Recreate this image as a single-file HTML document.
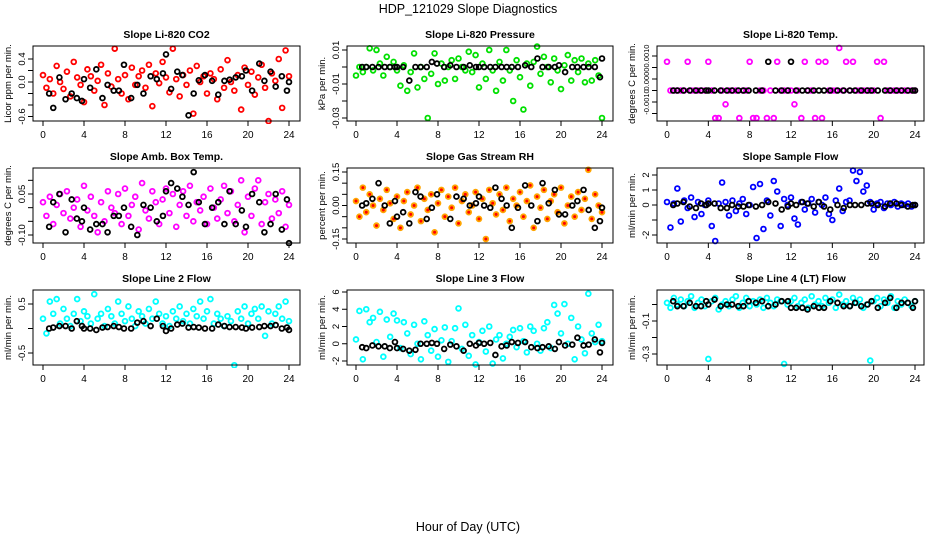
<!DOCTYPE html>
<html><head><meta charset="utf-8">
<style>
html,body{margin:0;padding:0;background:#fff;}
svg{display:block;font-family:"Liberation Sans",Arial,sans-serif;}
</style></head>
<body>
<svg id="chart" width="936" height="540" viewBox="0 0 936 540" xmlns="http://www.w3.org/2000/svg">
<text x="468" y="13" text-anchor="middle" font-size="12.5">HDP_121029  Slope Diagnostics</text>
<text x="468" y="531" text-anchor="middle" font-size="12.5">Hour of Day (UTC)</text>
</svg>
<script>
const xTicks = [0,4,8,12,16,20,24];
const blackHours = [0.6,1.0,1.6,2.2,2.8,3.3,3.8,4.0,4.6,5.2,5.8,6.3,6.9,7.4,7.9,8.6,9.2,9.8,10.5,11.1,11.7,12.0,12.5,13.1,13.6,14.2,14.7,15.2,15.8,16.5,17.1,17.7,18.2,18.8,19.4,19.8,20.4,21.1,21.6,22.2,22.7,23.3,23.8,24.0];

const co2Vals = [0.12,-0.1,0.05,-0.2,0.28,0.0,-0.12,0.18,-0.25,0.35,0.08,-0.05,-0.35,0.22,0.1,-0.15,0.02,0.3,-0.4,0.15,-0.08,0.58,0.05,-0.2,0.12,-0.3,0.25,-0.05,0.1,0.2,-0.1,0.3,-0.42,0.15,-0.02,0.35,0.08,-0.18,0.58,0.05,-0.25,0.12,-0.05,0.2,-0.55,0.28,0.0,0.1,-0.2,0.15,0.05,-0.3,0.22,-0.1,0.38,0.0,-0.15,0.12,-0.48,0.25,-0.05,0.18,-0.22,0.08,0.3,-0.1,-0.68,0.15,0.02,0.4,-0.45,0.55,0.1];
const co2Black = [-0.2,-0.45,0.08,-0.3,-0.2,-0.28,-0.33,0.05,-0.1,0.22,-0.28,-0.05,-0.15,-0.15,0.3,-0.28,-0.05,-0.2,0.1,0.05,0.15,0.48,-0.12,0.18,0.12,-0.58,-0.2,0.03,0.12,0.02,-0.22,0.02,0.04,0.08,0.1,0.2,-0.15,0.32,0.02,0.18,-0.08,0.1,-0.15,0.0];
const presVals = [-0.005,0.0,-0.003,0.0,0.011,-0.002,0.01,0.002,-0.005,0.006,0.0,0.003,-0.002,-0.011,0.001,-0.014,-0.003,0.008,-0.012,0.0,-0.007,-0.03,-0.004,0.008,-0.01,0.002,-0.008,0.0,0.004,-0.007,0.005,0.0,-0.002,0.009,-0.003,0.007,-0.012,0.002,-0.007,0.01,-0.002,-0.014,0.003,-0.008,0.01,-0.002,-0.02,0.004,-0.006,-0.025,0.002,-0.011,0.003,0.012,-0.004,0.006,0.0,-0.009,0.005,-0.002,-0.013,0.001,0.007,-0.008,0.004,-0.003,0.005,-0.009,0.002,-0.008,0.004,-0.005,-0.03];
const presBlack = [0,0,0,0,0,0,0,0,0,-0.008,0,0,0,0.003,0.002,0,0.001,0,0,0.001,0,0,0,0,0,0,0,0,0,0.001,0,0.005,0,0,0,0.001,-0.003,0,0,0,0,0,-0.006,0.005];
const tempVals = [0.00075,-0.0005,-0.0005,-0.0005,-0.0005,-0.0005,0.00075,-0.0005,-0.0005,-0.0005,-0.0005,-0.0005,0.00075,-0.0005,-0.0017,-0.0017,-0.0005,-0.0011,-0.0005,-0.0005,-0.0005,-0.0017,-0.0005,-0.0005,0.00075,-0.0017,-0.0017,-0.0005,-0.0005,-0.0017,-0.0005,-0.0017,0.00075,-0.0005,-0.0005,-0.0005,-0.0005,-0.0011,-0.0005,-0.0017,0.00075,-0.0005,-0.0005,-0.0017,0.00075,-0.0017,0.00075,-0.0005,-0.0005,-0.0005,0.00135,-0.0005,0.00075,-0.0005,0.00075,-0.0005,-0.0005,-0.0005,-0.0005,-0.0005,-0.0005,0.00075,-0.0017,0.00075,-0.0005,-0.0005,-0.0005,-0.0005,-0.0005,-0.0005,-0.0005,-0.0005,-0.0005];
const tempBlack = [-0.0005,-0.0005,-0.0005,-0.0005,-0.0005,-0.0005,-0.0005,-0.0005,-0.0005,-0.0005,-0.0005,-0.0005,-0.0005,-0.0005,-0.0005,-0.0005,-0.0005,0.00075,-0.0005,-0.0005,-0.0005,0.00075,-0.0005,-0.0005,-0.0005,-0.0005,-0.0005,-0.0005,-0.0005,-0.0005,-0.0005,-0.0005,-0.0005,-0.0005,-0.0005,-0.0005,-0.0005,-0.0005,-0.0005,-0.0005,-0.0005,-0.0005,-0.0005,-0.0005];
const ambVals = [0.02,-0.03,0.04,-0.06,0.01,0.05,-0.02,0.06,-0.04,0.0,0.03,-0.07,0.08,-0.01,0.04,-0.03,-0.09,0.02,-0.05,0.06,0.0,-0.02,0.05,-0.06,0.07,-0.03,0.01,0.04,-0.08,0.09,-0.01,-0.04,0.06,0.02,-0.06,0.03,0.07,-0.02,0.05,-0.07,0.01,0.06,-0.03,0.08,-0.05,0.02,-0.01,0.04,-0.06,0.07,0.0,-0.04,0.03,0.08,-0.02,0.06,-0.05,0.01,0.1,-0.09,0.04,-0.03,0.07,0.1,-0.06,0.02,0.05,-0.04,0.03,-0.02,0.06,-0.07,0.01];
const ambBlack = [-0.07,0.02,0.05,-0.09,0.03,-0.04,-0.05,0.0,-0.08,-0.06,-0.06,-0.09,-0.03,-0.03,0.0,-0.07,-0.1,0.01,0.0,-0.05,-0.03,0.06,0.09,0.07,0.04,0.01,0.13,0.02,-0.06,0.0,0.02,-0.06,0.06,-0.06,-0.01,-0.07,0.05,0.02,-0.09,-0.06,0.05,-0.08,0.03,-0.13];
const rhVals = [0.02,-0.05,0.08,-0.03,0.05,0.0,-0.09,0.03,-0.02,0.07,0.01,-0.06,0.04,-0.1,0.02,0.06,-0.04,0.0,0.08,-0.07,0.03,-0.02,0.05,-0.12,0.01,0.07,-0.05,0.04,-0.01,0.08,-0.08,0.02,0.05,-0.03,0.0,0.06,-0.06,0.03,-0.15,0.07,0.01,-0.04,0.05,-0.02,0.08,-0.07,0.03,0.0,0.06,-0.05,0.02,0.09,-0.1,0.04,-0.01,0.07,-0.06,0.02,0.05,-0.03,0.08,-0.08,0.0,0.04,-0.05,0.06,-0.02,0.03,0.16,-0.06,0.05,0.0,-0.03];
const rhBlack = [0.0,0.01,0.03,0.1,0.0,-0.08,0.02,-0.05,-0.03,-0.08,0.06,0.04,-0.06,-0.01,0.05,-0.2,-0.06,0.04,0.03,0.0,0.01,0.04,0.0,-0.01,0.08,0.03,0.0,-0.1,-0.01,0.09,0.0,-0.07,0.1,0.01,0.07,-0.04,-0.04,0.0,0.02,0.07,-0.02,-0.1,-0.07,-0.01];
const flowVals = [0.2,-1.5,0.1,1.1,-1.1,0.3,-0.2,0.5,-0.8,0.2,-0.6,0.0,0.3,-1.4,-2.4,0.1,1.5,0.2,-0.7,0.3,-0.4,0.1,0.4,-0.6,0.0,1.2,-2.2,1.4,-1.6,0.3,-0.7,1.6,0.9,-1.4,0.4,0.0,0.5,-0.9,-1.3,0.2,-0.3,0.1,0.4,-0.5,0.2,0.0,0.5,-0.6,-1.0,0.3,1.1,-0.4,0.2,0.3,2.3,1.6,2.2,0.9,1.3,0.2,-0.3,0.1,0.2,-0.2,0.1,0.0,0.2,-0.1,0.1,0.0,0.1,-0.1,0.0];
const flowBlack = [0.0,0.1,0.2,-0.1,-0.2,0.1,0.0,0.1,0.1,-0.2,-0.2,0.0,-0.1,-0.1,0.0,-0.1,0.0,0.2,0.1,-0.3,-0.1,0.1,0.0,0.2,0.1,-0.1,0.2,-0.1,-0.3,0.0,-0.2,0.0,0.0,0.0,0.1,0.1,0.0,-0.1,0.1,0.1,0.0,-0.1,0.0,0.0];
const line2Vals = [0.2,-0.1,0.55,0.3,0.6,0.1,0.4,0.2,0.05,0.3,0.6,0.15,0.35,0.25,0.1,0.7,0.2,0.3,0.05,0.4,0.25,0.1,0.55,0.3,0.15,0.45,0.2,0.05,0.35,0.25,0.1,0.4,0.2,0.55,0.3,0.1,0.25,0.05,0.35,0.2,0.45,0.15,0.3,0.1,0.4,0.25,0.55,0.2,0.35,0.6,0.1,0.3,0.2,0.05,0.25,0.15,-0.75,0.35,0.2,0.45,0.1,0.3,0.4,0.2,0.45,-0.15,0.35,0.1,0.3,0.45,0.2,0.55,0.15];
const line2Black = [0.0,0.02,0.05,0.05,0.0,0.15,0.05,0.0,0.0,-0.03,0.02,0.03,0.05,0.03,0.0,0.0,0.12,0.15,0.05,0.2,0.05,-0.05,0.0,0.08,0.1,0.02,0.03,0.02,0.0,0.0,0.08,0.05,0.03,0.03,0.02,0.0,0.02,0.03,0.05,0.05,0.07,0.0,0.02,-0.03];
const line3Vals = [0.5,3.8,-1.8,4.0,2.5,3.0,0.2,3.7,-1.5,2.8,0.8,3.5,2.7,-0.5,2.5,1.2,-1.2,2.2,0.0,-1.8,2.6,1.0,-0.8,1.7,-1.5,0.4,1.9,-2.1,0.3,1.8,4.1,-0.6,2.2,-1.4,1.0,-2.4,0.2,1.5,-0.9,2.0,-2.3,0.5,1.0,-1.7,0.0,0.8,1.6,-0.4,1.8,0.3,-1.0,2.0,1.5,0.0,-0.8,1.8,2.5,-0.5,4.5,3.5,1.2,4.6,0.0,3.0,-1.8,2.0,0.5,-1.1,5.8,1.2,0.2,2.2,0.3];
const line3Black = [-0.4,-0.5,-0.2,-0.3,-0.3,-0.5,0.2,-0.5,-0.6,-0.8,-0.7,0.0,0.0,0.1,0.0,-0.6,-0.1,-0.3,-0.8,0.0,-0.2,0.1,0.0,0.1,-1.3,-0.3,-0.2,0.2,0.1,0.2,-0.4,-0.5,-0.4,-0.3,-0.6,0.2,-0.2,-0.1,0.7,-0.2,-0.1,0.5,-1.0,0.1];
const line4Vals = [0.01,-0.02,0.04,0.0,0.03,-0.01,0.02,0.05,-0.02,0.01,0.03,-0.01,-0.33,0.02,0.04,-0.03,0.0,0.02,-0.01,0.03,0.05,-0.02,0.01,0.04,-0.01,0.02,0.0,0.03,-0.02,0.04,0.01,-0.01,0.03,0.02,-0.36,0.0,0.02,0.04,-0.01,0.01,0.03,-0.02,0.05,0.0,0.02,-0.01,0.04,0.01,0.03,-0.02,0.06,0.0,0.02,-0.01,0.04,0.01,0.03,-0.02,0.0,-0.34,0.02,0.04,-0.01,0.03,0.01,0.05,-0.02,0.02,0.0,0.03,0.01,-0.01,0.02];
const line4Black = [0.02,-0.01,-0.01,0.01,-0.01,-0.01,0.02,0.0,0.03,-0.01,0.0,0.0,-0.01,-0.01,0.02,0.01,0.02,-0.01,0.0,0.02,0.02,-0.02,-0.02,-0.02,-0.03,-0.01,-0.02,-0.02,0.02,0.01,-0.01,-0.01,0.01,-0.01,0.0,0.02,-0.02,0.01,0.04,-0.02,0.01,0.01,-0.02,0.02];

const co2Ticks = [0.4,0.2,0,-0.2,-0.4,-0.6];   const co2Labels = ["0.4","","0.0","","","-0.6"];
const presTicks = [0.01,0,-0.01,-0.02,-0.03]; const presLabels = ["0.01","","-0.01","","-0.03"];
const tempTicks = [0.001,0.0005,0,-0.0005,-0.001,-0.0015]; const tempLabels = ["0.0010","","0.0000","","-0.0010",""];
const ambTicks = [0.1,0.05,0,-0.05,-0.1]; const ambLabels = ["","0.05","","","-0.10"];
const rhTicks = [0.15,0.1,0.05,0,-0.05,-0.1,-0.15]; const rhLabels = ["0.15","","","0.00","","","-0.15"];
const flowTicks = [2,1,0,-1,-2]; const flowLabels = ["2","1","0","","-2"];
const line2Ticks = [0.5,0,-0.5]; const line2Labels = ["0.5","","-0.5"];
const line3Ticks = [6,4,2,0,-2]; const line3Labels = ["6","4","2","0","-2"];
const line4Ticks = [0,-0.1,-0.2,-0.3]; const line4Labels = ["","-0.1","","-0.3"];

const NS = "http://www.w3.org/2000/svg";
const svg = document.getElementById('chart');
const cols = [{l:33,r:300,x0:43,x24:289,yl:9},{l:347,r:613,x0:356,x24:602,yl:323},{l:657,r:924,x0:667,x24:915,yl:633}];
const rows = [{t:46,b:121},{t:168,b:243},{t:290,b:365}];
const panels = [
 {name:"co2",title:"Slope Li-820 CO2",ylab:"Licor ppm per min.",c:0,r:0,v1:0.4,p1:59,v2:0,p2:82,vals:co2Vals,blk:co2Black,ticks:co2Ticks,labels:co2Labels,color:"#ff0000"},
 {name:"pressure",title:"Slope Li-820 Pressure",ylab:"kPa per min.",c:1,r:0,v1:0.01,p1:50,v2:-0.01,p2:84,vals:presVals,blk:presBlack,ticks:presTicks,labels:presLabels,color:"#00e000"},
 {name:"temp",title:"Slope Li-820 Temp.",ylab:"degrees C per min.",c:2,r:0,v1:0.001,p1:56,v2:0,p2:79,vals:tempVals,blk:tempBlack,ticks:tempTicks,labels:tempLabels,color:"#ff00ff",tfs:7.5},
 {name:"amb-box-temp",title:"Slope Amb. Box Temp.",ylab:"degrees C per min.",c:0,r:1,v1:0.05,p1:194,v2:-0.1,p2:235,vals:ambVals,blk:ambBlack,ticks:ambTicks,labels:ambLabels,color:"#ff00ff"},
 {name:"gas-stream-rh",title:"Slope Gas Stream RH",ylab:"percent per min.",c:1,r:1,v1:0.15,p1:172,v2:-0.15,p2:239,vals:rhVals,blk:rhBlack,ticks:rhTicks,labels:rhLabels,color:"#ffa500",inner:"#ff0000"},
 {name:"sample-flow",title:"Slope Sample Flow",ylab:"ml/min per min.",c:2,r:1,v1:2,p1:175,v2:-2,p2:235,vals:flowVals,blk:flowBlack,ticks:flowTicks,labels:flowLabels,color:"#0000ff"},
 {name:"line2-flow",title:"Slope Line 2 Flow",ylab:"ml/min per min.",c:0,r:2,v1:0.5,p1:304,v2:-0.5,p2:353,vals:line2Vals,blk:line2Black,ticks:line2Ticks,labels:line2Labels,color:"#00ffff"},
 {name:"line3-flow",title:"Slope Line 3 Flow",ylab:"ml/min per min.",c:1,r:2,v1:6,p1:292,v2:-2,p2:361,vals:line3Vals,blk:line3Black,ticks:line3Ticks,labels:line3Labels,color:"#00ffff"},
 {name:"line4-flow",title:"Slope Line 4 (LT) Flow",ylab:"ml/min per min.",c:2,r:2,v1:-0.1,p1:321,v2:-0.3,p2:354,vals:line4Vals,blk:line4Black,ticks:line4Ticks,labels:line4Labels,color:"#00ffff"}
];
function mk(tag, attrs, parent){const e=document.createElementNS(NS,tag);for(const k in attrs)e.setAttribute(k,attrs[k]);(parent||svg).appendChild(e);return e;}

panels.forEach(p=>{
  const C=cols[p.c], R=rows[p.r];
  const g=mk('g',{});
  
  
  const xs=h=>C.x0+(C.x24-C.x0)*h/24;
  const ys=v=>p.p2+(v-p.v2)*(p.p1-p.p2)/(p.v1-p.v2);
  const clip='clip-'+p.name;
  const cp=mk('clipPath',{id:clip},g); mk('rect',{x:C.l-3,y:R.t-3,width:C.r-C.l+6,height:R.b-R.t+6},cp);
  const title=mk('text',{x:(C.l+C.r)/2,y:R.t-8,'text-anchor':'middle','font-size':10.5,'font-weight':'bold'},g);
  title.textContent=p.title;
  
  
  const yl=mk('text',{x:0,y:0,'text-anchor':'middle','font-size':9.5,transform:`translate(${C.yl+2},${(R.t+R.b)/2}) rotate(-90)`},g);
  yl.textContent=p.ylab;
  
  
  const pts=mk('g',{'clip-path':`url(#${clip})`},g);
  
  
  const n=p.vals.length;
  p.vals.forEach((v,i)=>{
    const h=i*24/(n-1);
    const c=mk('circle',{cx:xs(h),cy:ys(v),r:2.4,fill:p.inner?p.inner:'none',stroke:p.color,'stroke-width':1.8},pts);
    
    
  });
  const m=Math.min(p.blk.length,blackHours.length);
  for(let i=0;i<m;i++){
    const c=mk('circle',{cx:xs(blackHours[i]),cy:ys(p.blk[i]),r:2.4,fill:'none',stroke:'#000','stroke-width':1.8},pts);
    
    
  }
  const box=mk('rect',{x:C.l,y:R.t,width:C.r-C.l,height:R.b-R.t,fill:'none',stroke:'#000','stroke-width':1},g);
  
  
  xTicks.forEach(t=>{
    mk('line',{x1:xs(t),x2:xs(t),y1:R.b,y2:R.b+5,stroke:'#000'},g);
    const tl=mk('text',{x:xs(t),y:R.b+17,'text-anchor':'middle','font-size':10},g);
    tl.textContent=t;
    
    
  });
  mk('line',{x1:xs(0),x2:xs(24),y1:R.b,y2:R.b,stroke:'#000'},g);
  p.ticks.forEach((t,i)=>{
    const y=ys(t); if(y<R.t-1||y>R.b+1) return;
    mk('line',{x1:C.l-5,x2:C.l,y1:y,y2:y,stroke:'#000'},g);
    if(p.labels[i]){
      const tl=mk('text',{x:0,y:0,'text-anchor':'middle','font-size':p.tfs||9.5,transform:`translate(${C.l-8},${y}) rotate(-90)`},g);
      tl.textContent=p.labels[i];
      
      
    }
  });
});
</script>
</body></html>
